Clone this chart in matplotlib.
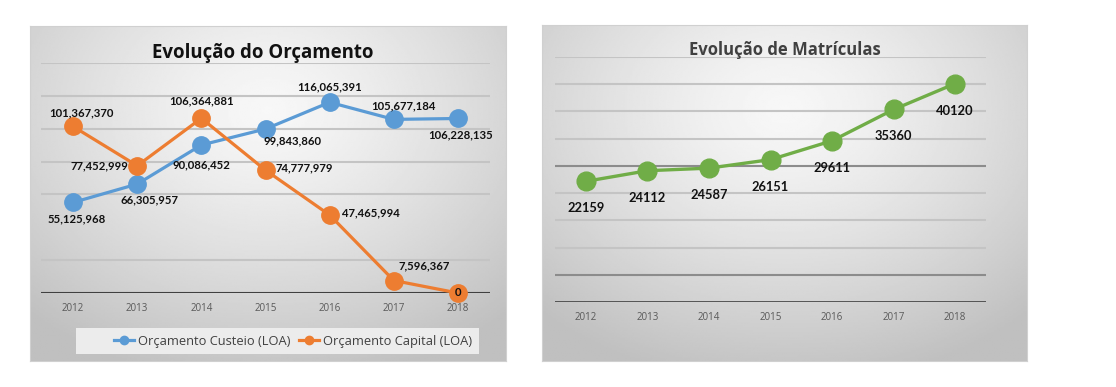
import numpy as np
from matplotlib import pyplot as plt
from matplotlib.patches import Rectangle
from matplotlib.lines import Line2D

# Data
years = ['2012', '2013', '2014', '2015', '2016', '2017', '2018']
custeio = [55125968, 66305957, 90086452, 99843860, 116065391, 105677184, 106228135]
capital = [101367370, 77452999, 106364881, 74777979, 47465994, 7596367, 0]
matriculas = [22159, 24112, 24587, 26151, 29611, 35360, 40120]

blue = '#5B9BD5'
orange = '#ED7D31'
green = '#70AD47'

W, H = 1116, 387
fig = plt.figure(figsize=(W / 100, H / 100), dpi=100)


def rect(x0, y0, x1, y1):
    # pixel box (from top-left) -> figure coords
    return [x0 / W, (H - y1) / H, (x1 - x0) / W, (y1 - y0) / H]


def background(box):
    bg = fig.add_axes(rect(*box), zorder=0)
    yy, xx = np.mgrid[0:1:200j, 0:1:300j]
    d = np.sqrt(((xx - 0.5) * 1.0) ** 2 + ((yy - 0.25) * 0.9) ** 2)
    img = 0.97 - 0.22 * np.clip(d / 0.75, 0, 1) ** 1.3
    bg.imshow(img, cmap='gray', vmin=0, vmax=1, extent=(0, 1, 0, 1),
              origin='upper', aspect='auto')
    bg.set_xlim(0, 1)
    bg.set_ylim(0, 1)
    for s in bg.spines.values():
        s.set_color('#d0d0d0')
    bg.set_xticks([])
    bg.set_yticks([])
    return bg


labelFont = dict(family='Lato', fontweight='bold', color='#111111')

# ---------------- Left chart ----------------
bgL = background((30, 26, 506, 361))
axL = fig.add_axes(rect(41, 63, 490, 293), zorder=2)
axL.patch.set_alpha(0)
x = np.arange(len(years))

for g in [20e6, 60e6, 80e6, 100e6, 120e6, 140e6]:
    axL.axhline(g, color='#c4c4c4', lw=1.5, zorder=1)
axL.axhline(0, color='#404040', lw=1.5, zorder=1)

axL.plot(x, custeio, color=blue, lw=2.3, marker='o', ms=12.5, zorder=3, clip_on=False)
axL.plot(x, capital, color=orange, lw=2.3, marker='o', ms=12.5, zorder=4, clip_on=False)
axL.set_xlim(-0.5, 6.5)
axL.set_ylim(0, 140e6)
axL.set_yticks([])
axL.set_xticks(x)
axL.set_xticklabels(years, family='Open Sans', fontsize=7, color='#595959')
axL.tick_params(axis='x', length=0, pad=7)
for s in axL.spines.values():
    s.set_visible(False)

# label offsets in pixels (dx, dy) and alignment
custOff = [(4, -16, 'center'), (12, -16, 'center'), (0, -20, 'center'), (27, -12, 'center'),
           (0, 15, 'center'), (10, 14, 'center'), (3, -16, 'center')]
capOff = [(8, 14, 'center'), (-9, 0, 'right'), (0, 17, 'center'), (10, 2, 'left'),
          (12, 2, 'left'), (30, 15, 'center'), (0, 0, 'center')]


def fmt(v):
    return f'{v:,}'


for i, v in enumerate(custeio):
    dx, dy, ha = custOff[i]
    axL.annotate(fmt(v), (x[i], v), xytext=(dx * 0.72, dy * 0.72), textcoords='offset points',
                 ha=ha, va='center', fontsize=8.2, zorder=5, **labelFont)
for i, v in enumerate(capital):
    dx, dy, ha = capOff[i]
    axL.annotate(fmt(v), (x[i], v), xytext=(dx * 0.72, dy * 0.72), textcoords='offset points',
                 ha=ha, va='center', fontsize=8.2, zorder=5, annotation_clip=False, **labelFont)

fig.text(263 / W, 1 - 53 / H, 'Evolução do Orçamento', family='Open Sans', fontweight='bold',
         fontsize=13.4, color='#111111', ha='center', va='center')

# legend box
bgL.add_patch(Rectangle(((76 - 30) / 476, (361 - 354) / 335), 403 / 476, 26 / 335,
                        facecolor='#ececec', edgecolor='none', zorder=3))
handles = [Line2D([], [], color=blue, lw=2.3, marker='o', ms=6),
           Line2D([], [], color=orange, lw=2.3, marker='o', ms=6)]
fig.legend(handles, ['Orçamento Custeio (LOA)', 'Orçamento Capital (LOA)'],
           loc='center', bbox_to_anchor=(293 / W, 1 - 341 / H), ncol=2, frameon=False,
           handlelength=1.6, columnspacing=0.6, handletextpad=0.3,
           prop=dict(family='Open Sans', size=9.3), labelcolor='#404040')

# ---------------- Right chart ----------------
bgR = background((542, 25, 1027, 361))
axR = fig.add_axes(rect(555, 57, 986, 302), zorder=2)
axR.patch.set_alpha(0)
for g in range(5000, 45001, 5000):
    c = '#8c8c8c' if g in (5000, 25000) else '#c4c4c4'
    axR.axhline(g, color=c, lw=1.5, zorder=1)
axR.axhline(0, color='#404040', lw=1.2, zorder=1)
axR.plot(x, matriculas, color=green, lw=2.4, marker='o', ms=13.5, zorder=3, clip_on=False)
for i, v in enumerate(matriculas):
    axR.annotate(str(v), (x[i], v), xytext=(0, -27 * 0.72), textcoords='offset points',
                 ha='center', va='center', fontsize=9.3, zorder=5, **labelFont)
axR.set_xlim(-0.5, 6.5)
axR.set_ylim(0, 45000)
axR.set_yticks([])
axR.set_xticks(x)
axR.set_xticklabels(years, family='Open Sans', fontsize=7, color='#595959')
axR.tick_params(axis='x', length=0, pad=7)
for s in axR.spines.values():
    s.set_visible(False)

fig.text(785 / W, 1 - 50 / H, 'Evolução de Matrículas', family='Open Sans', fontweight='bold',
         fontsize=12, color='#404040', ha='center', va='center')

fig.savefig('out.png', dpi=100, facecolor='white')
